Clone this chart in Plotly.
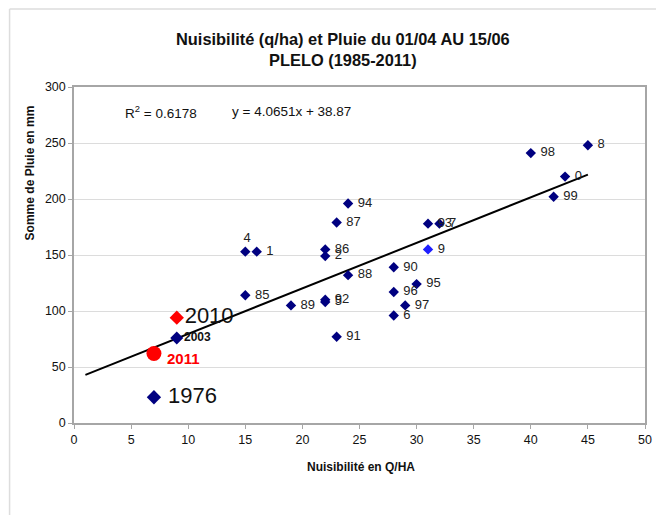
import plotly.graph_objects as go

# --- data ---
# regular years (navy diamonds)
nuis = [45, 40, 43, 42, 24, 23, 31, 32, 22, 22, 15, 16, 28, 24, 30, 28, 29, 28, 15, 19, 22, 22, 23]
pluie = [248, 241, 220, 202, 196, 179, 178, 178, 155, 149, 153, 153, 139, 132, 124, 117, 105, 96, 114, 105, 110, 108, 77]
years = ["8", "98", "0", "99", "94", "87", "93", "7", "86", "2", "4", "1", "90", "88", "95", "96", "97", "6",
         "85", "89", "92", "5", "91"]

# year 9 is drawn in a lighter blue
nuis_9 = [31]
pluie_9 = [155]

# highlighted years
nuis_2010, pluie_2010 = [9], [94]
nuis_2003, pluie_2003 = [9], [76]
nuis_2011, pluie_2011 = [7], [62]
nuis_1976, pluie_1976 = [7], [23]

# linear trend shown on the chart
slope = 4.0651
intercept = 38.87
r2 = 0.6178
trend_x = [1, 45]

font = "Liberation Sans, Arial, sans-serif"
navy = "#000080"

# page has an 8px body margin, so the figure is a bit smaller than the window
W, H = 656, 507
ML, MR, MT, MB = 66, 14, 79, 92
pw, ph = W - ML - MR, H - MT - MB

pos = ["middle right"] * len(years)
pos[years.index("4")] = "top center"

fig = go.Figure()

fig.add_trace(go.Scatter(
    x=trend_x, y=[slope * v + intercept for v in trend_x],
    mode="lines", line=dict(color="black", width=2), hoverinfo="skip",
))

fig.add_trace(go.Scatter(
    x=nuis, y=pluie, mode="markers+text", text=[" " + t for t in years],
    textposition=pos, textfont=dict(family=font, size=13, color="#222222"),
    marker=dict(symbol="diamond", size=8, color=navy),
))
fig.add_trace(go.Scatter(
    x=nuis_9, y=pluie_9, mode="markers+text", text=[" 9"], textposition="middle right",
    textfont=dict(family=font, size=13, color="#222222"),
    marker=dict(symbol="diamond", size=8, color="#1f1fff"),
))
fig.add_trace(go.Scatter(
    x=nuis_2010, y=pluie_2010, mode="markers+text", text=["2010"], textposition="middle right",
    textfont=dict(family=font, size=22, color="#111111"),
    marker=dict(symbol="diamond", size=11, color="#ff0000"),
))
fig.add_trace(go.Scatter(
    x=nuis_2003, y=pluie_2003, mode="markers+text", text=["<b>2003</b>"], textposition="middle right",
    textfont=dict(family=font, size=12, color="#111111"),
    marker=dict(symbol="diamond", size=10, color=navy),
))
fig.add_trace(go.Scatter(
    x=nuis_2011, y=pluie_2011, mode="markers",
    marker=dict(symbol="circle", size=15, color="#ff0000"), hoverinfo="skip",
))
fig.add_annotation(x=nuis_2011[0], y=pluie_2011[0], xref="x", yref="y", xanchor="left",
                   xshift=11, yshift=-5, showarrow=False, text="<b>2011</b>",
                   font=dict(family=font, size=15, color="#ff0000"))
fig.add_trace(go.Scatter(
    x=nuis_1976, y=pluie_1976, mode="markers+text", text=[" 1976"], textposition="middle right",
    textfont=dict(family=font, size=22, color="#111111"),
    marker=dict(symbol="diamond", size=11, color=navy),
))

fig.add_annotation(x=4.3, y=278, xref="x", yref="y", xanchor="left", showarrow=False,
                   text=f"R<sup>2</sup> = {r2}", font=dict(family=font, size=13.5, color="#111111"))
fig.add_annotation(x=13.7, y=278, xref="x", yref="y", xanchor="left", showarrow=False,
                   text=f"y = {slope}x + {intercept}", font=dict(family=font, size=13.5, color="#111111"))

fig.add_annotation(x=(345 - 8 - ML) / pw, y=1 + (50 - 8 - MT) / -ph, xref="paper", yref="paper",
                   xanchor="center", yanchor="middle", showarrow=False,
                   text="<b>Nuisibilité (q/ha) et Pluie du 01/04 AU 15/06<br>PLELO (1985-2011)</b>",
                   font=dict(family=font, size=16.4, color="#111111"))
fig.add_annotation(x=(364 - 8 - ML) / pw, y=-(467 - 8 - (H - MB)) / ph, xref="paper", yref="paper",
                   xanchor="center", yanchor="middle", showarrow=False,
                   text="<b>Nuisibilité en Q/HA</b>", font=dict(family=font, size=12, color="#111111"))
fig.add_annotation(x=-(ML - (30 - 8)) / pw, y=1 - (173 - 8 - MT) / ph, xref="paper", yref="paper",
                   xanchor="center", yanchor="middle", showarrow=False, textangle=-90,
                   text="<b>Somme de Pluie en mm</b>", font=dict(family=font, size=12, color="#111111"))

# outer chart frame (top and left edges visible)
fx0 = -(ML - 1) / pw
fy0 = 1 + (MT - 1) / ph
fig.add_shape(type="line", xref="paper", yref="paper", x0=fx0, x1=1 + MR / pw, y0=fy0, y1=fy0,
              line=dict(color="#dddddd", width=1.5))
fig.add_shape(type="line", xref="paper", yref="paper", x0=fx0, x1=fx0, y0=fy0, y1=-MB / ph,
              line=dict(color="#dddddd", width=1.5))

fig.update_xaxes(range=[0, 50], dtick=5, showgrid=False, zeroline=False,
                 showline=True, linecolor="#a6a6a6", linewidth=1.5, mirror=True,
                 ticks="outside", ticklen=4, tickcolor="#a6a6a6",
                 tickfont=dict(family=font, size=12.5, color="#111111"))
fig.update_yaxes(range=[0, 300], dtick=50, showgrid=True, gridcolor="#dcdcdc", zeroline=False,
                 showline=True, linecolor="#a6a6a6", linewidth=1.5, mirror=True,
                 ticks="outside", ticklen=4, tickcolor="#a6a6a6",
                 tickfont=dict(family=font, size=12.5, color="#111111"))

fig.update_layout(
    width=W, height=H,
    margin=dict(l=ML, r=MR, t=MT, b=MB),
    paper_bgcolor="white", plot_bgcolor="white",
    showlegend=False,
)

fig.write_html("out.html")
